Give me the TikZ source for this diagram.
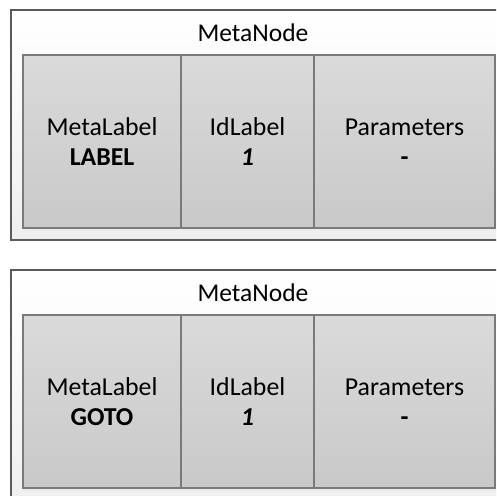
\documentclass[tikz,border=0pt]{standalone}
\usepackage{fontspec}
\setmainfont{Carlito}
\usetikzlibrary{calc}
\definecolor{outerline}{HTML}{5A5A5A}
\definecolor{cellline}{HTML}{7A7A7A}
\definecolor{celltop}{HTML}{DADADA}
\definecolor{cellbot}{HTML}{C9C9C9}
\definecolor{framebot}{HTML}{EEEEEE}
\tikzset{
  frame/.style={draw=outerline, line width=1.1pt, top color=white, bottom color=framebot},
  cell/.style={draw=cellline, line width=1.4pt, top color=celltop, bottom color=cellbot},
  celltext/.style={align=center, font=\fontsize{25.8}{30}\selectfont, inner sep=0pt},
  titletext/.style={font=\fontsize{25.5}{30}\selectfont, inner sep=0pt},
  shade/.style={fill=black!8, draw=none}
}
\begin{document}
\begin{tikzpicture}[x=1pt,y=-1pt]
\useasboundingbox (0,0) rectangle (496,496);
\clip (0,0) rectangle (496,496);
\fill[white] (0,0) rectangle (496,496);

% upper meta node
\draw[frame] (11,10) rectangle (505,240);
\node[titletext] (t1) at (253,33) {MetaNode};
\fill[shade] (25,228) rectangle (500,231);
\draw[cell] (23,55) rectangle (181,228);
\draw[cell] (181,55) rectangle (314,228);
\draw[cell] (314,55) rectangle (495,228);
\node[celltext] (a1) at (102,142) {MetaLabel\\\textbf{LABEL}};
\node[celltext] (b1) at (247.5,142) {IdLabel\\\textbf{\textit{1}}};
\node[celltext] (c1) at (404.5,142) {Parameters\\\textbf{-}};

% lower meta node
\draw[frame] (11,270) rectangle (505,520);
\node[titletext] (t2) at (253,293) {MetaNode};
\fill[shade] (25,488) rectangle (500,491);
\draw[cell] (23,315) rectangle (181,488);
\draw[cell] (181,315) rectangle (314,488);
\draw[cell] (314,315) rectangle (495,488);
\node[celltext] (a2) at (102,402) {MetaLabel\\\textbf{GOTO}};
\node[celltext] (b2) at (247.5,402) {IdLabel\\\textbf{\textit{1}}};
\node[celltext] (c2) at (404.5,402) {Parameters\\\textbf{-}};
\end{tikzpicture}
\end{document}
